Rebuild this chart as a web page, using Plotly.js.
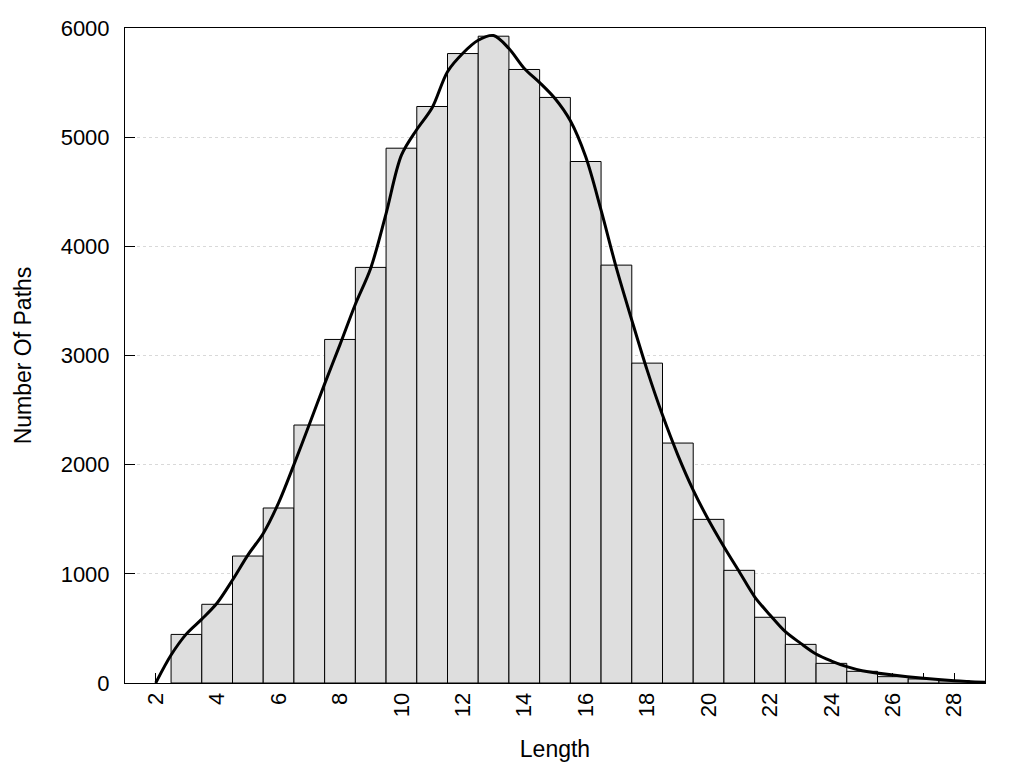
<!DOCTYPE html>
<html>
<head>
<meta charset="utf-8">
<script src="https://cdn.plot.ly/plotly-3.0.1.min.js"></script>
<style>html,body{margin:0;padding:0;background:#fff;}#chart{width:1024px;height:768px;}</style>
</head>
<body>
<div id="chart"></div>
<script>
// Histogram bars: path length -> number of paths
const barLengths = [3,4,5,6,7,8,9,10,11,12,13,14,15,16,17,18,19,20,21,22,23,24,25,26,27,28];
const barCounts  = [445,721,1163,1603,2363,3147,3807,4899,5281,5766,5925,5620,5364,4777,3828,2930,2198,1499,1032,602,354,180,107,58,37,20];

// Smoothed density curve
const curveX = [2,2.5,3,3.5,4,4.5,5,5.5,6,6.5,7,7.5,8,8.5,9,9.5,10,10.5,11,11.5,12,12.5,13,13.5,14,14.5,15,15.5,16,16.5,17,17.5,18,18.5,19,19.5,20,20.5,21,21.5,22,22.5,23,23.5,24,24.5,25,26,27,28,29];
const curveY = [0,256,450,585,733,943,1172,1370,1650,2000,2368,2740,3100,3470,3800,4300,4835,5070,5270,5600,5769,5888,5931,5812,5630,5500,5354,5150,4820,4332,3800,3324,2866,2454,2088,1767,1493,1248,1019,790,623,470,363,265,201,150,113,73,43,21,6];

const xTitle = "Length";
const yTitle = "Number Of Paths";

const fontFam = "Liberation Sans, Arial, sans-serif";

const traces = [
  {
    type: "bar",
    x: barLengths,
    y: barCounts,
    width: 1,
    marker: {color: "#dedede", line: {color: "#000", width: 1}},
    hoverinfo: "x+y",
    showlegend: false
  },
  {
    type: "scatter",
    mode: "lines",
    x: curveX,
    y: curveY,
    line: {color: "#000", width: 3, shape: "spline", smoothing: 0.9},
    showlegend: false
  }
];

const layout = {
  width: 1024,
  height: 768,
  margin: {l: 125, r: 39, t: 28, b: 85},
  paper_bgcolor: "#fff",
  plot_bgcolor: "#fff",
  font: {family: fontFam, size: 22, color: "#000"},
  bargap: 0,
  xaxis: {
    range: [1, 29],
    tickmode: "linear",
    tick0: 2,
    dtick: 2,
    ticks: "inside",
    ticklen: 10,
    tickcolor: "#000",
    tickwidth: 1,
    tickangle: -90,
    tickfont: {family: fontFam, size: 22, color: "#000"},
    minor: {dtick: 1, tick0: 1, ticks: "inside", ticklen: 10, tickcolor: "#000", tickwidth: 1, showgrid: false},
    showgrid: false,
    zeroline: false,
    showline: true,
    linecolor: "#000",
    linewidth: 1,
    mirror: true,
    layer: "below traces",
    title: {text: xTitle, font: {family: fontFam, size: 23, color: "#000"}, standoff: 24}
  },
  yaxis: {
    range: [0, 6000],
    tickmode: "linear",
    tick0: 0,
    dtick: 1000,
    ticks: "inside",
    ticklen: 10,
    tickcolor: "#000",
    tickwidth: 1,
    ticklabelstandoff: 10,
    tickfont: {family: fontFam, size: 22, color: "#000"},
    showgrid: true,
    gridcolor: "#d9d9d9",
    griddash: "dot",
    gridwidth: 1,
    zeroline: false,
    showline: true,
    linecolor: "#000",
    linewidth: 1,
    mirror: true,
    layer: "below traces",
    title: {text: yTitle, font: {family: fontFam, size: 23, color: "#000"}, standoff: 22}
  }
};

Plotly.newPlot("chart", traces, layout, {displayModeBar: false, staticPlot: true});
</script>
</body>
</html>
